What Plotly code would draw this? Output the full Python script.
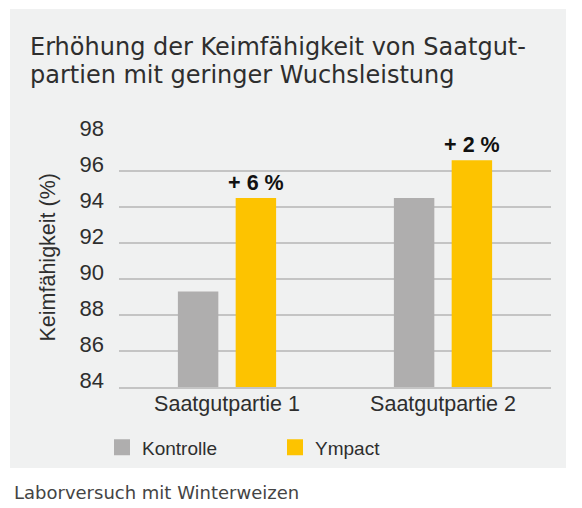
import plotly.graph_objects as go

categories = ["Saatgutpartie 1", "Saatgutpartie 2"]
kontrolle = [89.3, 94.5]
ympact = [94.5, 96.6]
ympact_labels = ["+ 6 %", "+ 2 %"]
y_ticks = [84, 86, 88, 90, 92, 94, 96, 98]
series_names = ["Kontrolle", "Ympact"]

W, H = 582, 508
def px(x):
    return x / W
def py(y):
    return 1 - y / H

GREY = "#afaeae"
YELLOW = "#fdc300"
TXT = "#2e2e2e"
AX_FONT = "Liberation Sans, Arial, sans-serif"
TITLE_FONT = "DejaVu Sans, sans-serif"
GRID = "#c4c4c4"

fig = go.Figure()
fig.add_trace(go.Bar(name=series_names[0], x=categories, y=kontrolle, marker_color=GREY,
                     marker_line_width=0, showlegend=False, hoverinfo="skip"))
fig.add_trace(go.Bar(name=series_names[1], x=categories, y=ympact, marker_color=YELLOW,
                     marker_line_width=0, text=ympact_labels, textposition="outside",
                     constraintext="none",
                     textfont=dict(family=AX_FONT, size=21.5, color="#111111"),
                     texttemplate="<b>%{text}</b>", cliponaxis=False, showlegend=False,
                     hoverinfo="skip"))
# legend entries (square swatches)
for name, col in zip(series_names, [GREY, YELLOW]):
    fig.add_trace(go.Scatter(name=name, x=[None], y=[None], mode="markers",
                             marker=dict(symbol="square", size=16, color=col),
                             showlegend=True, hoverinfo="skip"))

fig.update_layout(
    width=W, height=H,
    margin=dict(l=0, r=0, t=0, b=0, autoexpand=False),
    paper_bgcolor="white",
    plot_bgcolor="rgba(0,0,0,0)",
    barmode="group",
    bargap=0.465,
    bargroupgap=0.30,
    showlegend=True,
    hovermode=False,
    legend=dict(orientation="h", x=px(102), y=py(447.5), yanchor="middle", xanchor="left",
                font=dict(family=AX_FONT, size=19, color=TXT),
                entrywidth=128, entrywidthmode="pixels", bgcolor="rgba(0,0,0,0)",
                itemclick=False, itemdoubleclick=False, itemsizing="trace"),
    xaxis=dict(domain=[px(119), px(551)], showgrid=False, showline=True,
               linecolor=GRID, linewidth=1.5, automargin=False,
               tickfont=dict(family=AX_FONT, size=21.5, color=TXT),
               ticklabelstandoff=-4, fixedrange=True),
    yaxis=dict(domain=[py(387), py(135)], range=[84, 98], tickvals=y_ticks,
               showgrid=True, gridcolor=GRID, gridwidth=1.5, zeroline=False,
               automargin=False,
               tickfont=dict(family=AX_FONT, size=22, color=TXT),
               ticklabelstandoff=14, ticklabelshift=-7, fixedrange=True),
    shapes=[dict(type="rect", xref="paper", yref="paper", x0=px(10), x1=px(566),
                 y0=py(468), y1=py(9), fillcolor="#f0f1f1", line_width=0, layer="below")],
    annotations=[
        dict(text="Erhöhung der Keimfähigkeit von Saatgut-",
             xref="paper", yref="paper", x=px(28), y=py(46.5), xanchor="left", yanchor="middle",
             align="left", showarrow=False,
             font=dict(family=TITLE_FONT, size=24, color=TXT)),
        dict(text="partien mit geringer Wuchsleistung",
             xref="paper", yref="paper", x=px(28), y=py(75), xanchor="left", yanchor="middle",
             align="left", showarrow=False,
             font=dict(family=TITLE_FONT, size=24, color=TXT)),
        dict(text="Keimfähigkeit (%)", xref="paper", yref="paper", x=px(47), y=py(257.5),
             textangle=-90, showarrow=False, xanchor="center", yanchor="middle",
             font=dict(family=AX_FONT, size=21.5, color=TXT)),
        dict(text="Laborversuch mit Winterweizen", xref="paper", yref="paper",
             x=px(11.5), y=py(492), xanchor="left", yanchor="middle", showarrow=False,
             font=dict(family=TITLE_FONT, size=18, color="#444444")),
    ],
)

post = """
document.documentElement.style.margin='0';
document.documentElement.style.overflow='hidden';
document.body.style.margin='0';
document.body.style.overflow='hidden';
"""

fig.write_html("out.html", config={"displayModeBar": False, "responsive": False},
               post_script=post)
